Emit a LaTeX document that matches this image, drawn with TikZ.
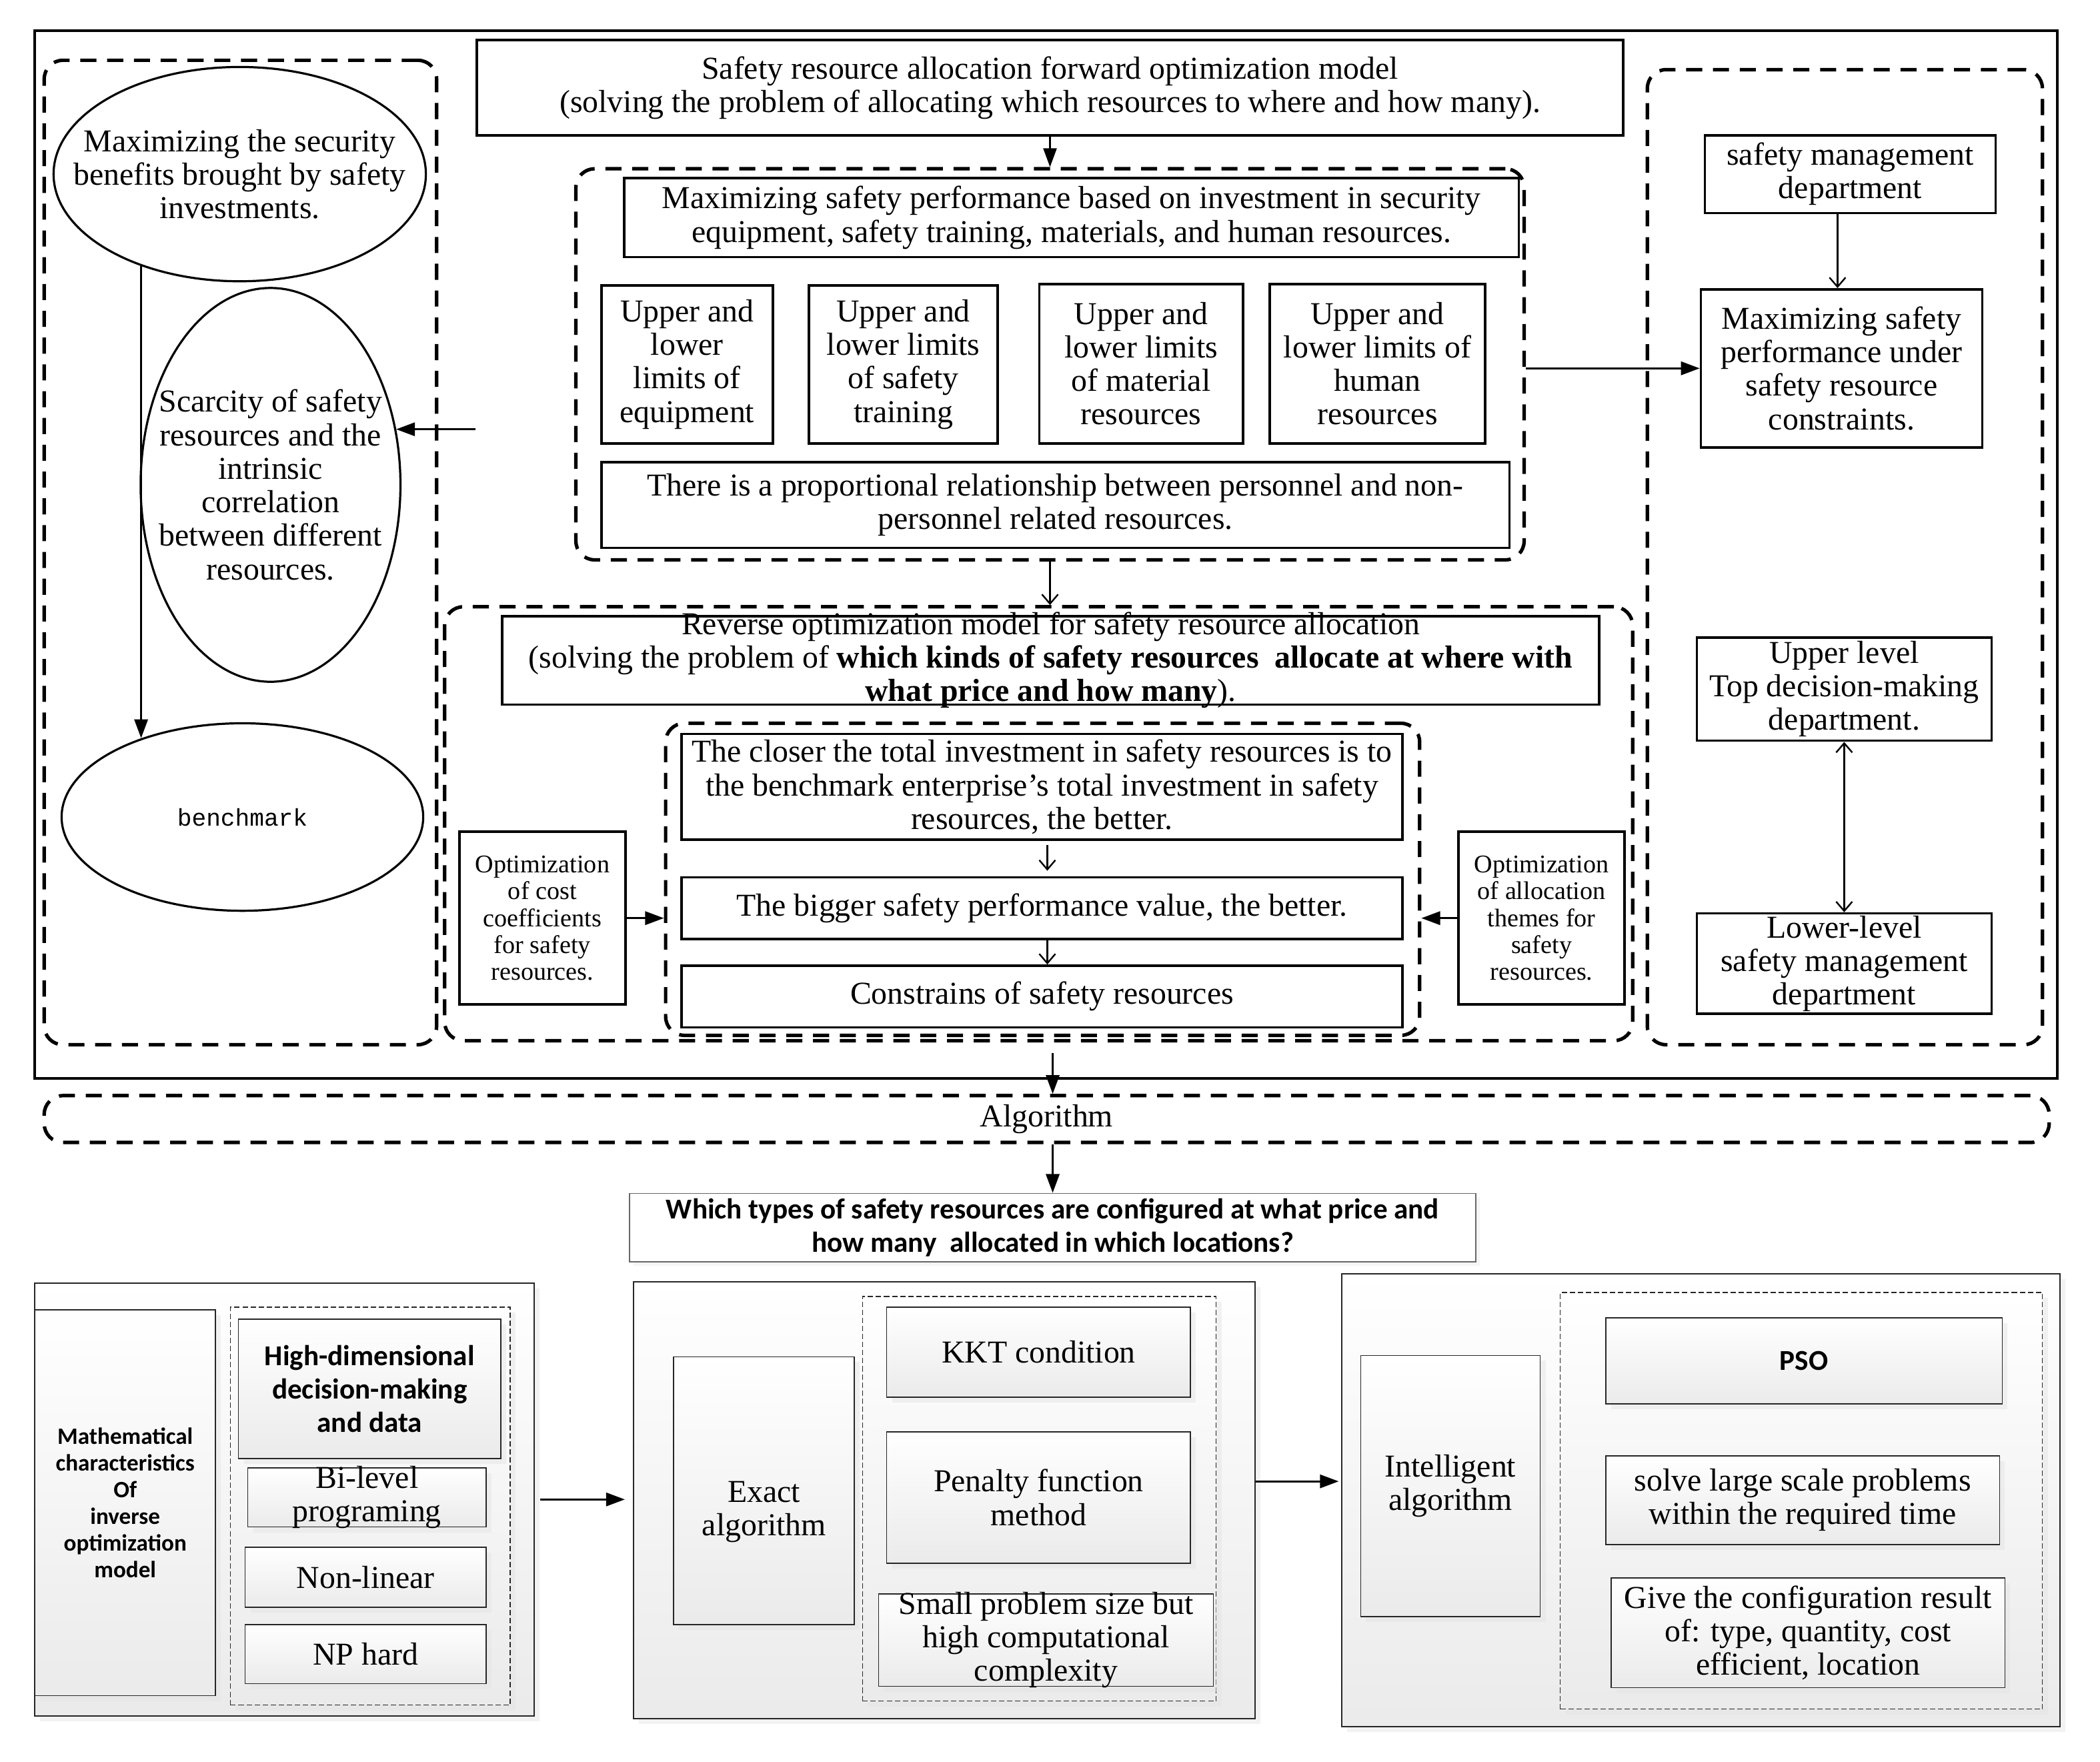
\documentclass[tikz,border=0pt]{standalone}
\usepackage{fontspec}
\setmainfont{Liberation Serif}
\setmonofont{Liberation Mono}
\newfontfamily\carl{Carlito}
\usetikzlibrary{shapes.geometric,arrows.meta,shadows}
\NewDocumentCommand\mkbox{O{bx}O{}mmmmmm}{%
  \node[#1,minimum width={(#6-#4)*1pt},minimum height={(#7-#5)*1pt}] (#3) at ({(#4+#6)/2},{(#5+#7)/2}) {};
  \node[txt,#2] (#3t) at (#3.center) {#8};}
\begin{document}
\begin{tikzpicture}[x=1pt,y=-1pt,
  bx/.style={draw,line width=1.8pt,fill=white,inner sep=0pt},
  frm/.style={draw,line width=2pt,inner sep=0pt},
  dbx/.style={draw,line width=2.6pt,dash pattern=on 12pt off 8pt,rounded corners=14pt,inner sep=0pt},
  pb/.style={draw=black!85,line width=0.9pt,top color=white,bottom color=black!8,inner sep=0pt,
     drop shadow={shadow xshift=4pt,shadow yshift=-4pt,fill=black!10,draw=none}},
  pd/.style={pb,dash pattern=on 4pt off 2pt,line width=0.8pt},
  wbx/.style={draw=black!60,line width=0.8pt,fill=white,inner sep=0pt,
     drop shadow={shadow xshift=3pt,shadow yshift=-3pt,fill=black!8,draw=none}},
  ell/.style={ellipse,draw,line width=1.6pt,inner sep=0pt},
  txt/.style={align=center,inner sep=0pt,font=\fontsize{23.8}{25}\selectfont},
  smt/.style={font=\fontsize{19}{20}\selectfont},
  cb/.style={font=\carl\bfseries\fontsize{21.5}{25}\selectfont},
  arr/.style={-{Triangle[length=14pt,width=10pt]},line width=1.5pt},
  barb/.style={-{Straight Barb[length=7pt,width=12pt]},line width=1.2pt},
  dbarb/.style={{Straight Barb[length=7pt,width=12pt]}-{Straight Barb[length=7pt,width=12pt]},line width=1.2pt}
]
\useasboundingbox (0,0) rectangle (1568,1315.1);

% ===== upper frame =====
\mkbox[frm]{frame}{26}{23}{1536}{805}{}
\mkbox[dbx]{dl}{33}{45}{326}{780}{}
\mkbox[dbx]{dm}{430}{126}{1138}{418}{}
\mkbox[dbx]{dr}{1230}{52}{1525}{780}{}
\mkbox[dbx]{rv}{332}{453}{1219}{777}{}
\mkbox[dbx]{din}{497}{540}{1060}{773}{}

% left column ellipses
\node[ell,minimum width=278pt,minimum height=160pt] (e1) at (179,130) {};
\node[txt] (e1t) at (e1.center) {Maximizing the security\\benefits brought by safety\\investments.};
\node[ell,minimum width=194pt,minimum height=294pt] (e2) at (202,362) {};
\node[txt] (e2t) at (e2.center) {Scarcity of safety\\resources and the\\intrinsic\\correlation\\between different\\resources.};
\node[ell,minimum width=270pt,minimum height=140pt] (e3) at (181,610) {};
\node[txt,font=\ttfamily\fontsize{18}{22}\selectfont] (e3t) at (e3.center) {benchmark};

% top box and forward model
\mkbox{top}{356}{30}{1212}{101}{Safety resource allocation forward optimization model\\(solving the problem of allocating which resources to where and how many).}
\mkbox{mx}{466}{133}{1134}{192}{Maximizing safety performance based on investment in security\\equipment, safety training, materials, and human resources.}
\mkbox{u1}{449}{213}{577}{331}{Upper and\\lower\\limits of\\equipment}
\mkbox{u2}{604}{213}{745}{331}{Upper and\\lower limits\\of safety\\training}
\mkbox{u3}{776}{212}{928}{331}{Upper and\\lower limits\\of material\\resources}
\mkbox{u4}{948}{212}{1109}{331}{Upper and\\lower limits of\\human\\resources}
\mkbox{prop}{449}{345}{1127}{409}{There is a proportional relationship between personnel and non-\\personnel related resources.}

% right column
\mkbox{smd}{1273}{101}{1490}{159}{safety management\\department}
\mkbox{rmax}{1270}{216}{1480}{334}{Maximizing safety\\performance under\\safety resource\\constraints.}
\mkbox{upl}{1267}{476}{1487}{553}{Upper level\\Top decision-making\\department.}
\mkbox{lol}{1267}{682}{1487}{757}{Lower-level\\safety management\\department}

% reverse model
\mkbox{rvt}{375}{460}{1194}{526}{Reverse optimization model for safety resource allocation\\(solving the problem of \textbf{which kinds of safety resources\ \ allocate at where with}\\\textbf{what price and how many}).}
\mkbox{clo}{509}{548}{1047}{627}{The closer the total investment in safety resources is to\\the benchmark enterprise's total investment in safety\\resources, the better.}
\mkbox{big}{509}{655}{1047}{701}{The bigger safety performance value, the better.}
\mkbox{con}{509}{721}{1047}{767}{Constrains of safety resources}
\mkbox[bx][smt]{oc}{343}{621}{467}{750}{Optimization\\of cost\\coefficients\\for safety\\resources.}
\mkbox[bx][smt]{oa}{1089}{621}{1213}{750}{Optimization\\of allocation\\themes for\\safety\\resources.}

% algorithm band
\mkbox[dbx]{alg}{33}{818}{1530}{853}{Algorithm}
\mkbox[wbx][cb]{wt}{470}{891}{1102}{942}{Which types of safety resources are configured at what price and\\how many\ \ allocated in which locations?}

% ===== bottom panels =====
\mkbox[pb]{p1}{26}{958}{399}{1281}{}
\mkbox[pb][font=\carl\bfseries\fontsize{17.5}{20}\selectfont]{m1}{26}{978}{161}{1266}{Mathematical\\characteristics\\Of\\inverse\\optimization\\model}
\mkbox[pd]{d1}{172}{976}{381}{1273}{}
\mkbox[pb][cb]{h1}{178}{985}{374}{1089}{High-dimensional\\decision-making\\and data}
\mkbox[pb]{b1}{185}{1096}{363}{1140}{Bi-level\\programing}
\mkbox[pb]{n1}{183}{1155}{363}{1200}{Non-linear}
\mkbox[pb]{np1}{183}{1213}{363}{1257}{NP hard}

\mkbox[pb]{p2}{473}{957}{937}{1283}{}
\mkbox[pb][yshift=-16pt]{ex}{503}{1013}{638}{1213}{Exact\\algorithm}
\mkbox[pd]{d2}{644}{968}{908}{1270}{}
\mkbox[pb]{kkt}{662}{976}{889}{1043}{KKT condition}
\mkbox[pb]{pen}{662}{1069}{889}{1167}{Penalty function\\method}
\mkbox[pb]{sm}{656}{1190}{906}{1259}{Small problem size but\\high computational\\complexity}

\mkbox[pb]{p3}{1002}{951}{1538}{1289}{}
\mkbox[pb]{ia}{1016}{1012}{1150}{1207}{Intelligent\\algorithm}
\mkbox[pd]{d3}{1165}{965}{1525}{1276}{}
\mkbox[pb][cb]{pso}{1199}{984}{1495}{1048}{PSO}
\mkbox[pb]{slv}{1199}{1087}{1493}{1153}{solve large scale problems\\within the required time}
\mkbox[pb]{giv}{1203}{1178}{1497}{1260}{Give the configuration result\\of: type, quantity, cost\\efficient, location}

% ===== connectors =====
\draw[arr] (e1.223) -- (e1.223 |- e3.142);
\coordinate (c2) at (355,320.5);
\draw[arr] (c2) -- (c2 -| e2.24);
\draw[arr,line width=1.2pt] (top.south) -- (top.south |- dm.north);
\draw[arr] (dm.east |- rmax.west) -- (rmax.west);
\draw[barb] ([xshift=-9.5pt]smd.south) -- ([xshift=-9.5pt]smd.south |- rmax.north);
\draw[dbarb] (upl.south) -- (upl.south |- lol.north);
\draw[barb] (dm.south) -- (dm.south |- rv.north);
\draw[barb,shorten <=3pt,shorten >=4pt] ([xshift=4pt]clo.south) -- ([xshift=4pt]clo.south |- big.north);
\draw[barb] ([xshift=4pt]big.south) -- ([xshift=4pt]big.south |- con.north);
\draw[arr] (oc.east) -- (oc.east -| din.west);
\draw[arr] (oa.west) -- (oa.west -| din.east);
\coordinate (rvb) at (786,786);
\draw[arr] (rvb) -- (rvb |- alg.north);
\draw[arr] (wt.north |- alg.south) -- (wt.north);
\draw[arr,shorten <=4pt,shorten >=6pt] (p1.east) -- (p1.east -| p2.west);
\draw[arr,shorten >=2pt] ([yshift=14pt]p2.east) -- ([yshift=14pt]p2.east -| p3.west);
\end{tikzpicture}
\end{document}
